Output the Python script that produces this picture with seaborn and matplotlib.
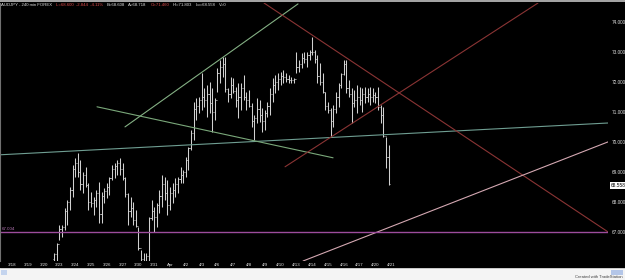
import numpy as np
import pandas as pd
import matplotlib
matplotlib.use('Agg')
import matplotlib.pyplot as plt
import matplotlib.transforms as mtransforms
from matplotlib.lines import Line2D
from matplotlib.patches import Rectangle
import seaborn as sns

## Data (240 min bars, 6 per day)

day_labels = ['3/18', '3/19', '3/20', '3/23', '3/24', '3/25', '3/26', '3/27', '3/30', '3/31',
              'Apr', '4/2', '4/3', '4/6', '4/7', '4/8', '4/9', '4/10', '4/13', '4/14',
              '4/15', '4/16', '4/17', '4/20', '4/21']

highs = [66.30, 66.63, 67.23, 67.23, 67.80, 68.07, 68.50, 69.23, 69.47, 69.63,
         69.40, 69.00, 69.17, 68.63, 68.33, 68.17, 68.40, 68.67, 68.33, 68.47,
         68.63, 68.83, 69.23, 69.30, 69.40, 69.47, 69.30, 68.83, 68.30, 68.17,
         68.00, 67.73, 67.17, 66.40, 66.30, 66.30, 67.50, 68.07, 67.83, 67.97,
         68.40, 68.90, 68.83, 68.73, 68.50, 68.63, 68.80, 68.83, 69.17, 69.07,
         69.50, 69.83, 70.40, 71.33, 71.47, 71.50, 72.30, 71.80, 71.90, 72.00,
         71.80, 71.47, 72.47, 72.73, 72.83, 72.83, 71.80, 72.17, 72.13, 71.83,
         71.97, 71.97, 72.23, 71.67, 71.73, 71.30, 70.90, 71.47, 71.40, 71.13,
         71.07, 71.33, 71.80, 72.13, 72.23, 72.30, 72.33, 72.40, 72.30, 72.23,
         72.17, 72.13, 73.00, 72.73, 72.97, 73.00, 73.00, 73.07, 73.50, 73.07,
         72.90, 72.63, 72.30, 71.67, 71.33, 71.13, 71.23, 71.67, 71.97, 72.30,
         72.73, 72.73, 72.07, 71.80, 71.73, 71.90, 71.83, 71.80, 71.83, 71.80,
         71.83, 71.80, 71.67, 71.83, 71.23, 71.17, 70.17, 69.90]

lows = [65.80, 65.80, 66.73, 66.83, 67.07, 67.23, 67.73, 68.17, 68.83, 68.83,
        68.40, 68.30, 68.50, 67.73, 67.83, 67.57, 67.83, 67.30, 67.30, 67.97,
        68.13, 68.23, 68.73, 68.80, 68.90, 68.90, 68.73, 68.17, 67.23, 67.50,
        67.23, 67.17, 66.40, 65.80, 65.80, 65.80, 65.90, 67.40, 67.00, 67.17,
        67.63, 67.83, 68.07, 67.57, 67.73, 67.97, 68.17, 68.30, 68.63, 68.63,
        68.83, 69.07, 69.73, 70.07, 70.73, 70.97, 71.07, 71.17, 70.83, 70.97,
        70.33, 70.73, 71.67, 71.97, 72.17, 71.67, 71.33, 71.47, 71.63, 71.17,
        70.80, 71.07, 71.40, 71.07, 71.17, 70.50, 70.07, 70.63, 70.67, 70.33,
        70.40, 70.83, 70.90, 71.33, 71.63, 71.73, 71.90, 71.97, 72.00, 71.97,
        71.97, 71.97, 72.30, 72.33, 72.47, 72.63, 72.50, 72.73, 72.90, 72.63,
        71.97, 71.90, 71.63, 71.07, 70.97, 70.17, 70.50, 70.97, 71.17, 71.80,
        72.23, 71.63, 71.50, 70.63, 71.17, 70.97, 71.23, 71.00, 71.30, 71.33,
        71.23, 71.33, 71.30, 71.07, 70.63, 70.17, 69.13, 68.56]

closes = [66.25, 66.60, 67.10, 67.15, 67.70, 68.00, 68.40, 69.10, 69.30, 69.00,
          68.60, 68.90, 68.55, 68.00, 67.95, 68.05, 68.30, 67.60, 68.20, 68.35,
          68.50, 68.80, 69.10, 69.20, 69.30, 69.10, 68.80, 68.25, 67.70, 67.80,
          67.40, 67.20, 66.45, 66.10, 66.00, 66.20, 67.45, 67.70, 67.50, 67.90,
          68.20, 68.60, 68.30, 67.90, 68.30, 68.40, 68.60, 68.75, 68.90, 69.00,
          69.40, 69.80, 70.30, 71.10, 71.20, 71.40, 71.50, 71.40, 71.60, 71.30,
          71.00, 71.40, 72.30, 72.50, 72.60, 71.75, 71.60, 71.90, 71.70, 71.40,
          71.50, 71.80, 71.50, 71.40, 71.20, 70.70, 70.80, 71.10, 70.90, 70.70,
          70.95, 71.20, 71.60, 71.90, 72.00, 72.10, 72.20, 72.15, 72.10, 72.05,
          72.05, 72.10, 72.50, 72.60, 72.80, 72.75, 72.90, 73.00, 73.00, 72.75,
          72.20, 72.00, 71.65, 71.20, 71.05, 70.70, 71.10, 71.50, 71.90, 72.25,
          72.60, 71.80, 71.60, 71.30, 71.40, 71.50, 71.40, 71.60, 71.50, 71.60,
          71.50, 71.55, 71.50, 71.15, 70.90, 70.20, 69.50, 68.60]

first_open = 66.10
first_slot = 16          # first visible bar = 3/20, 5th 4h bar (slots counted from 3/18)
bars_per_day = 6

price_ticks = [67, 68, 69, 70, 71, 72, 73, 74]
last_price = 68.558
ref_level = 67.004

# header quote fields
header = [('AUDJPY - 240 min FOREX', 'w'), ('L=68.600  -2.844  -4.11%', 'r'),
          ('B=68.608', 'w'), ('A=68.718', 'w'), ('O=71.460', 'r'),
          ('Hi=71.803', 'w'), ('Lo=68.558', 'w'), ('V=0', 'w')]

# trend lines drawn by the user: (days from 3/18, price)
trend_days = {
    'base':   [-0.76, 37.72],
    'upper':  [7.15, 18.10],
    'down':   [5.38, 20.32],
    'red_dn': [15.95, 37.72],
    'red_up': [17.28, 33.29],
    'pink':   [18.42, 37.72],
}
trend_prices = {
    'base':   [69.57, 70.63],
    'upper':  [70.50, 74.60],
    'down':   [71.17, 69.47],
    'red_dn': [74.63, 67.00],
    'red_up': [69.17, 74.63],
    'pink':   [66.03, 70.00],
}
trend_colors = {
    'base': '#6f9e92', 'upper': '#84b084', 'down': '#7aa87a',
    'red_dn': '#8a3434', 'red_up': '#8a3434', 'pink': '#d4a8b2',
}

##########################################################################

sns.set_theme(style='dark', rc={'axes.facecolor': 'black', 'figure.facecolor': 'black',
                                'axes.edgecolor': '#808080', 'text.color': '#e0e0e0'})
plt.rcParams['font.family'] = ['Liberation Sans', 'DejaVu Sans']

fig = plt.figure(figsize=(6.25, 2.8), dpi=100, facecolor='black')
ax = fig.add_axes([0.0, 19/280, 608/625, 258/280])
ax.set_facecolor('black')

## Price bars (high-low line, open tick left, close tick right)
t = (first_slot + np.arange(len(highs))) / bars_per_day
opens = np.r_[first_open, closes[:-1]]
bar_col = '#d0d0d0'
ax.vlines(t, lows, highs, color=bar_col, lw=0.75)
ax.hlines(opens, t - 0.07, t, color=bar_col, lw=0.6)
ax.hlines(closes, t, t + 0.07, color=bar_col, lw=0.6)

## Trend lines
for name in trend_days:
    sns.lineplot(x=trend_days[name], y=trend_prices[name], ax=ax,
                 color=trend_colors[name], lw=0.8, estimator=None)

ax.axhline(ref_level, color='#9c4c9c', lw=1.0)
ax.text(0.003, ref_level + 0.03, f'{ref_level:.3f}', color='#b878b8', fontsize=3.2,
        transform=mtransforms.blended_transform_factory(ax.transAxes, ax.transData),
        va='bottom', ha='left')

ax.set_xlim(-0.76, 37.72)
ax.set_ylim(66.03, 74.63)
ax.set_xticks(range(len(day_labels)))
ax.set_xticklabels(day_labels)
ax.yaxis.tick_right()
ax.set_yticks(price_ticks)
ax.set_yticklabels([f'{p:.3f}' for p in price_ticks])
ax.tick_params(axis='x', length=0, pad=1.2, labelsize=3.2, colors='#e0e0e0')
ax.tick_params(axis='y', length=0, pad=2.5, labelsize=3.4, colors='#e0e0e0')
ax.grid(False)
for s in ['top', 'right', 'bottom']:
    ax.spines[s].set_visible(False)
ax.spines['left'].set_color('#707070')
ax.spines['left'].set_linewidth(0.8)

# last price marker
ax.text(1.004, last_price, f'{last_price:.3f}', fontsize=3.4, color='black', va='center',
        ha='left', transform=mtransforms.blended_transform_factory(ax.transAxes, ax.transData),
        bbox=dict(facecolor='white', edgecolor='none', pad=0.6), clip_on=False)

## Header line, each field placed right after the previous one
hdr_col = {'w': '#e0e0e0', 'r': '#dc4a4a'}
anchor = fig.text(1/625, 1 - 5/280, header[0][0], color=hdr_col[header[0][1]],
                  fontsize=3.1, va='center', ha='left')
for txt, c in header[1:]:
    anchor = ax.annotate(txt, xy=(1, 0.5), xycoords=anchor, xytext=(2.6, 0),
                         textcoords='offset points', color=hdr_col[c], fontsize=3.1,
                         va='center', ha='left', annotation_clip=False)

## Window chrome (top border, scroll bar strip, credit)
fig.add_artist(Line2D([0, 1], [1 - 0.8/280, 1 - 0.8/280], color='#a8a8a8', lw=1.4,
                      transform=fig.transFigure))
fig.patches.append(Rectangle((0, 0), 1, 12/280, facecolor='#f4f4f4', edgecolor='none',
                             transform=fig.transFigure, zorder=5))
fig.add_artist(Line2D([0, 1], [12/280, 12/280], color='#c0c0c0', lw=0.6,
                      transform=fig.transFigure, zorder=6))
fig.patches.append(Rectangle((1/625, 5.5/280), 6/625, 5/280, facecolor='#c4d4ee',
                             edgecolor='none', transform=fig.transFigure, zorder=6))
fig.patches.append(Rectangle((611/625, 5.5/280), 12/625, 5/280, facecolor='#b4c6e8',
                             edgecolor='none', transform=fig.transFigure, zorder=6))
fig.text(623/625, 1.5/280, 'Created with TradeStation', fontsize=3.0, color='#404040',
         ha='right', va='bottom', zorder=7)

fig.savefig('out.png', dpi=100, facecolor='black')
